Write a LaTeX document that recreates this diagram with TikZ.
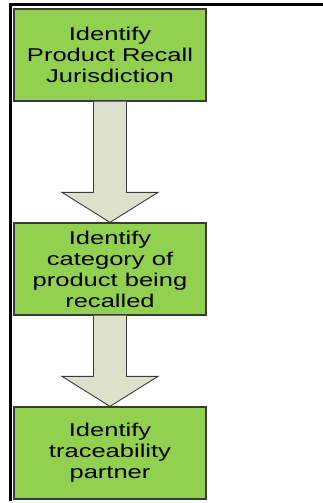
\documentclass[tikz,border=0pt]{standalone}
\usepackage{fontspec}
\setmainfont[FakeStretch=1.38]{Liberation Sans}
\usetikzlibrary{calc}
\definecolor{stepgreen}{HTML}{92D050}
\definecolor{arrowfill}{HTML}{DDE0CA}
\definecolor{edgegray}{HTML}{3A3A3A}
\tikzset{
  stepbox/.style={rectangle, draw=edgegray, line width=1.3pt, fill=stepgreen,
    minimum width=192pt, minimum height=92pt, inner sep=0pt,
    align=center, font=\fontsize{18.5}{21}\selectfont},
  blockarrow/.style={draw=edgegray, line width=0.9pt, fill=arrowfill, line join=miter},
  frameline/.style={black, line width=3pt}
}
\begin{document}
\begin{tikzpicture}[x=1pt, y=-1pt]
  \useasboundingbox (0,0) rectangle (323,503);
  % outer frame: top and left rules only
  \draw[frameline] (8.5,4.5) -- (323,4.5);
  \draw[frameline] (10,3) -- (10,501);
  % process steps
  \node[stepbox] (s1) at (110,55)  {Identify\\Product Recall\\Jurisdiction};
  \node[stepbox] (s2) at (110,269) {Identify\\category of\\product being\\recalled};
  \node[stepbox] (s3) at (110,453) {Identify\\traceability\\partner};
  % block arrows between steps
  \foreach \a/\b in {s1/s2, s2/s3}{
    \draw[blockarrow]
      ($(\a.south)+(-16.5,0)$) -- ($(\b.north)+(-16.5,-30)$)
      -- ($(\b.north)+(-48,-30)$) -- (\b.north)
      -- ($(\b.north)+(48,-30)$) -- ($(\b.north)+(16.5,-30)$)
      -- ($(\a.south)+(16.5,0)$);
  }
\end{tikzpicture}
\end{document}
